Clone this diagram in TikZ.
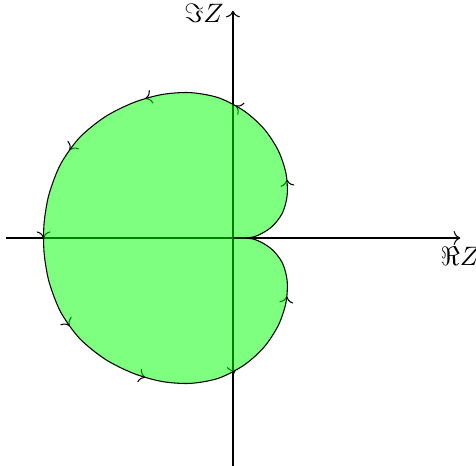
\documentclass[tikz,border=0pt]{standalone}
\usetikzlibrary{arrows.meta,decorations.markings}
\definecolor{ink}{RGB}{0,0,0}
\definecolor{leaf}{RGB}{0,255,0}
\tikzset{
  axis/.style={->,draw=ink},
  axis label/.style={font=\normalsize,text=ink},
  region/.style={draw=ink,fill=leaf,fill opacity=0.5,
    decoration={markings,mark=between positions 0.1 and 0.95 step 0.1 with {\arrow{>}}},
    preaction={decorate}},
}
\begin{document}
\begin{tikzpicture}[x=1.25cm,y=1.25cm]
    \useasboundingbox (-2.46,-2.397) rectangle (2.566,2.513);
    % axes
    \coordinate (xmin) at (-2.4,0);
    \coordinate (xmax) at (2.4,0);
    \coordinate (ymin) at (0,-2.45);
    \coordinate (ymax) at (0,2.4);
    \draw[axis] (xmin) -- (xmax) node[axis label,below] (re) {$\Re Z$};
    \draw[axis] (ymin) -- (ymax) node[axis label,left,yshift=-1pt] (im) {$\Im Z$};
    % boundary, run counter-clockwise from the cusp
    \filldraw[region] plot[smooth] coordinates {
      (0,0) (0.22,0.012) (0.40,0.11) (0.52,0.26) (0.572,0.45) (0.56,0.68)
      (0.48,0.92) (0.33,1.15) (0.12,1.34) (-0.15,1.48) (-0.45,1.535)
      (-0.75,1.515) (-1.05,1.43) (-1.35,1.28) (-1.62,1.06) (-1.82,0.78)
      (-1.94,0.47) (-1.99,0.2) (-2,0)
      (-1.99,-0.2) (-1.94,-0.47) (-1.82,-0.78) (-1.62,-1.06) (-1.35,-1.28)
      (-1.05,-1.43) (-0.75,-1.515) (-0.45,-1.535) (-0.15,-1.48) (0.12,-1.34)
      (0.33,-1.15) (0.48,-0.92) (0.56,-0.68) (0.572,-0.45) (0.52,-0.26)
      (0.40,-0.11) (0.22,-0.012) (0,0)};
\end{tikzpicture}
\end{document}
